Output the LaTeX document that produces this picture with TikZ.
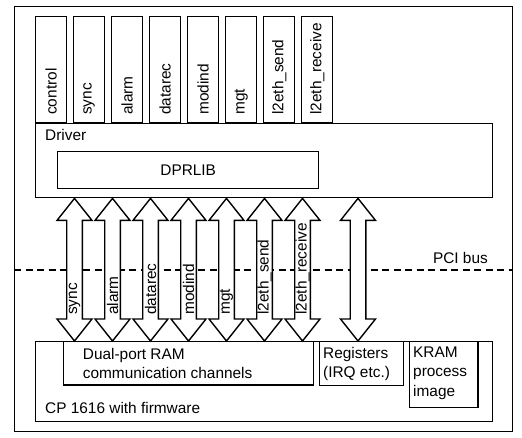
\documentclass[tikz,border=0pt]{standalone}
\usepackage{fontspec}
\setmainfont{Liberation Sans}
\usetikzlibrary{calc}
\tikzset{
    TX/.style ={inner sep=0pt, font=\fontsize{15.4}{19.3}\selectfont},
    BX/.style ={rectangle, draw, line width=1.4pt, inner sep=0pt, font=\fontsize{15.4}{19.3}\selectfont},
    AP/.style ={BX, minimum width=31pt, minimum height=106pt},
    AR/.style ={line width=1.4pt, fill=white, line join=miter},
    DL/.style ={line width=2.2pt, dash pattern=on 7pt off 4.5pt}}

\begin{document}
\begin{tikzpicture}[x=1pt,y=1pt]
        \useasboundingbox (0,0) rectangle (522,438);
        \node[BX, minimum width=498pt, minimum height=425pt, anchor=north west] (ob) at (14,432) {};
        \foreach \t [count=\i from 0] in {control,sync,alarm,datarec,modind,mgt,l2eth\_send,l2eth\_receive}{
            \node[AP, anchor=south west] (ap\i) at (35+38*\i,315) {};
            \node[TX, rotate=90, anchor=west] (apt\i) at ([yshift=8pt]ap\i.south) {\t};}
        \node[BX, minimum width=457pt, minimum height=74pt, anchor=north west] (drv) at (35,315) {};
        \node[TX, anchor=west] (drvt) at ([xshift=10pt,yshift=-12pt]drv.north west) {Driver};
        \node[BX, minimum width=261pt, minimum height=37pt, anchor=north west] (lib) at (57,287) {DPRLIB};
        \draw[DL] (ob.west |- 0,168) -- (ob.east |- 0,168);
        \node[TX, anchor=east] (pci) at (488,180) {PCI bus};
        \node[BX, minimum width=457pt, minimum height=80pt, anchor=north west] (cp) at (35,97) {};
        \node[TX, anchor=west] (cpt) at ([xshift=10pt,yshift=14pt]cp.south west) {CP 1616 with firmware};
        \node[BX, minimum width=250pt, minimum height=43.5pt, anchor=north west] (dpr) at (62.7,97) {};
        \node[TX, anchor=west, align=left] (dprt) at ([xshift=20pt]dpr.west) {Dual-port RAM\\communication channels};
        \node[BX, minimum width=84pt, minimum height=44pt, anchor=north west] (reg) at (318.5,97) {};
        \node[TX, anchor=west, align=left] (regt) at ([xshift=4.5pt]reg.west) {Registers\\(IRQ etc.)};
        \node[BX, minimum width=68.3pt, minimum height=65.7pt, anchor=north west] (kram) at (409,97) {};
        \node[TX, anchor=west, align=left] (kramt) at ([xshift=4pt,yshift=1.5pt]kram.west) {KRAM\\process\\image};
        \foreach \x in {74.5,112.5,150.5,188.5,226.5,264.5,302.5,358}{
            \coordinate (t) at (drv.south -| \x,0);
            \coordinate (b) at (cp.north -| \x,0);
            \draw[AR] (t) -- ++(17.5,-22) -- ++(-9.7,0) -- ($(b)+(7.8,22)$) -- ++(9.7,0) -- (b)
                -- ++(-17.5,22) -- ++(9.7,0) -- ($(t)+(-7.8,-22)$) -- ++(-9.7,0) -- cycle;}
        \foreach \x/\t in {74.5/sync,112.5/alarm,150.5/datarec,188.5/modind,226.5/mgt,264.5/l2eth\_send,302.5/l2eth\_receive}{
            \node[TX, rotate=90, anchor=west] at ($(cp.north -| \x,0)+(0,26)$) {\t};}
    \end{tikzpicture}
\end{document}
